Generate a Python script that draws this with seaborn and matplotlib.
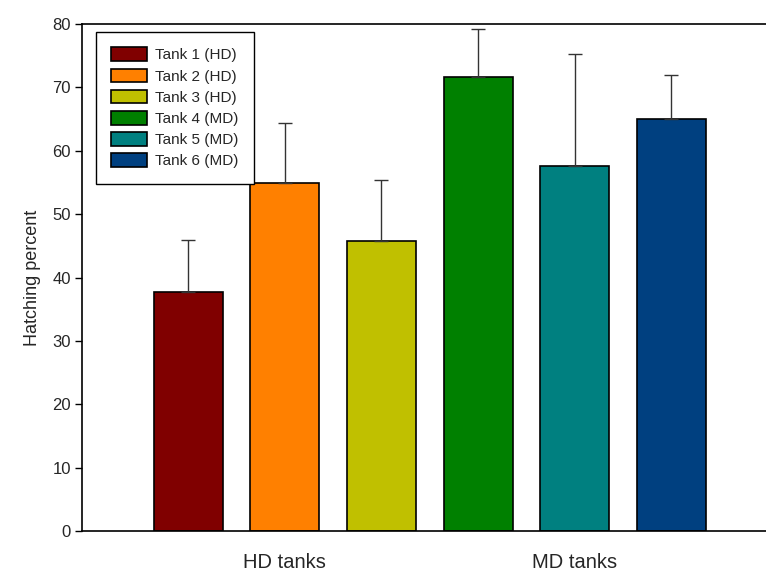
import pandas as pd
import seaborn as sns
import matplotlib.pyplot as plt

# values
tanks = ["Tank 1 (HD)", "Tank 2 (HD)", "Tank 3 (HD)",
         "Tank 4 (MD)", "Tank 5 (MD)", "Tank 6 (MD)"]
hatching = [37.7, 54.9, 45.8, 71.7, 57.6, 65.0]
err_top = [45.9, 64.4, 55.4, 79.2, 75.3, 71.9]
colors = ["#800000", "#ff8000", "#c0c000", "#008000", "#008080", "#004080"]
group_labels = ["HD tanks", "MD tanks"]

df = pd.DataFrame({"tank": tanks, "hatching": hatching})
upper = [t - v for t, v in zip(err_top, hatching)]

sns.set_style("white")
plt.rcParams["font.family"] = ["Liberation Sans", "DejaVu Sans"]

fig = plt.figure(figsize=(7.66, 5.74), dpi=100)
ax = fig.add_axes([82 / 766, 1 - 531 / 574, 695.5 / 766, 507 / 574])

sns.barplot(data=df, x="tank", y="hatching", hue="tank", palette=colors,
            width=0.714, edgecolor="black", linewidth=1.2, saturation=1,
            errorbar=None, legend=True, ax=ax)

# one-sided error bars (upper only)
ax.errorbar(range(len(tanks)), hatching, yerr=[[0] * len(tanks), upper],
            fmt="none", ecolor="#333333", elinewidth=1.0, capsize=5,
            capthick=1.0, zorder=1)

ax.set_xlim(-1.1, len(tanks) - 1 + 1.1)
ax.set_ylim(0, 80)
ax.set_yticks(range(0, 81, 10))
ax.tick_params(axis="y", direction="out", length=5, width=1, labelsize=12,
               left=True, color="black", pad=3)
ax.set_xticks([1, 4])
ax.set_xticklabels(group_labels)
ax.tick_params(axis="x", length=0, labelsize=14.5, pad=16)
ax.set_xlabel("")
ax.set_ylabel("Hatching percent", fontsize=13, labelpad=8)
for s in ax.spines.values():
    s.set_visible(True)
    s.set_color("black")
    s.set_linewidth(1.2)

leg = ax.legend(loc="upper left", bbox_to_anchor=(0.02, 0.984),
                borderaxespad=0, fontsize=11, handlelength=2.36,
                handleheight=1.0, labelspacing=0.4, handletextpad=0.5,
                borderpad=1.0, fancybox=False, edgecolor="black",
                framealpha=1)
leg.get_frame().set_linewidth(1.0)
for h in leg.legend_handles:
    h.set_edgecolor("black")
    h.set_linewidth(1.2)

fig.savefig("out.png", dpi=100)
